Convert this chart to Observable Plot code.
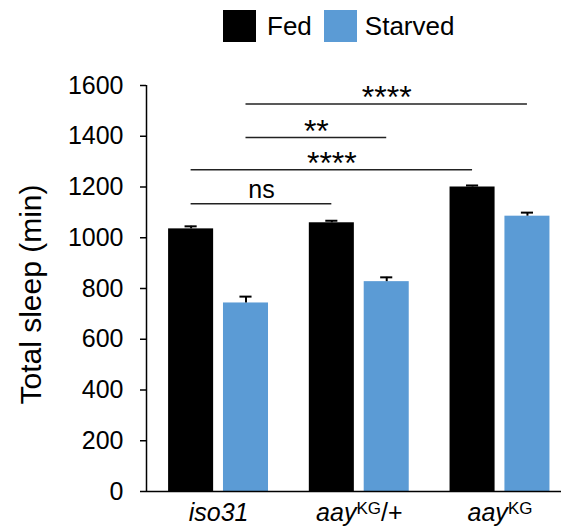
<!DOCTYPE html>
<html>
<head>
<meta charset="utf-8">
<script src="https://cdn.jsdelivr.net/npm/d3@7"></script>
<script src="https://cdn.jsdelivr.net/npm/@observablehq/plot@0.6"></script>
<style>
  html, body { margin: 0; padding: 0; background: #fff; }
  #wrap { position: relative; width: 561px; height: 527px; font-family: "Liberation Sans", Arial, Helvetica, sans-serif; }
  #legend { position: absolute; left: 223px; top: 10px; display: flex; align-items: center; font-size: 26px; color: #000; }
  .sw { width: 33px; height: 32px; display: inline-block; }
</style>
</head>
<body>
<div id="wrap">
  <div id="legend"></div>
</div>
<script>
// ---- data ----
const groups = ["iso31", "aayKG/+", "aayKG"];
const conditions = ["Fed", "Starved"];
const colors = ["#000000", "#5B9BD5"];
const fedMeans = [1035, 1059, 1200];
const fedSem = [10, 8, 6];
const starvedMeans = [743, 827, 1085];
const starvedSem = [25, 17, 14];
const yTicks = [0, 200, 400, 600, 800, 1000, 1200, 1400, 1600];
const yLabel = "Total sleep (min)";
// comparisons: [group, condition] pairs, bracket level in minutes, label
const compFrom = [["iso31", "Fed"], ["iso31", "Fed"], ["iso31", "Starved"], ["iso31", "Starved"]];
const compTo = [["aayKG/+", "Fed"], ["aayKG", "Fed"], ["aayKG/+", "Starved"], ["aayKG", "Starved"]];
const compLevel = [1134, 1268, 1395, 1527];
const compLabel = ["ns", "****", "**", "****"];
// label markup: [text, italic?, superscript?]
const labelParts = {
  "iso31": [["iso31", true, false]],
  "aayKG/+": [["aay", true, false], ["KG", false, true], ["/+", false, false]],
  "aayKG": [["aay", true, false], ["KG", false, true]]
};

// ---- layout (scale units) ----
const xDomain = [-0.512, 2.437];
const offset = {Fed: -0.195, Starved: 0.195};
const half = 0.16;
const capHalf = 0.043;
const font = '"Liberation Sans", Arial, Helvetica, sans-serif';

const bars = [];
groups.forEach((g, i) => {
  bars.push({group: g, gi: i, cond: "Fed", mean: fedMeans[i], sem: fedSem[i]});
  bars.push({group: g, gi: i, cond: "Starved", mean: starvedMeans[i], sem: starvedSem[i]});
});
const pos = ([g, c]) => groups.indexOf(g) + offset[c];
const comps = compLevel.map((lv, i) => ({from: compFrom[i], to: compTo[i], level: lv, label: compLabel[i]}));
const center = d => d.gi + offset[d.cond];

const chart = Plot.plot({
  width: 561,
  height: 527,
  marginLeft: 146,
  marginRight: 0,
  marginTop: 85,
  marginBottom: 36,
  style: {fontFamily: font, background: "transparent", color: "#000", overflow: "visible"},
  x: {domain: xDomain, axis: null},
  y: {domain: [0, 1600], axis: null},
  color: {domain: conditions, range: colors},
  marks: [
    Plot.rectY(bars, {x1: d => center(d) - half, x2: d => center(d) + half, y: "mean", fill: "cond"}),
    Plot.ruleX(bars, {x: center, y1: "mean", y2: d => d.mean + d.sem, stroke: "#000", strokeWidth: 2}),
    Plot.ruleY(bars, {y: d => d.mean + d.sem, x1: d => center(d) - capHalf, x2: d => center(d) + capHalf, stroke: "#000", strokeWidth: 2}),
    Plot.ruleX([xDomain[0]], {stroke: "#000", strokeWidth: 1.5}),
    Plot.ruleY([0], {stroke: "#000", strokeWidth: 1.5}),
    Plot.axisY(yTicks, {tickSize: 6, tickPadding: 17, fontSize: 25, tickFormat: d3.format("d"), stroke: "#000", strokeWidth: 1.5, label: null}),
    Plot.axisX([0, 1, 2], {tickSize: 0, tickPadding: 12, fontSize: 25, tickFormat: i => groups[i], label: null}),
    Plot.text([yLabel], {frameAnchor: "left", textAnchor: "middle", text: d => d, rotate: -90, dx: -115, dy: 6, fontSize: 30}),
    Plot.ruleY(comps, {y: "level", x1: d => pos(d.from), x2: d => pos(d.to), stroke: "#222", strokeWidth: 1.3}),
    Plot.text(comps.filter(d => d.label === "ns"), {x: d => (pos(d.from) + pos(d.to)) / 2, y: "level", text: "label", lineAnchor: "bottom", dy: -6, fontSize: 25}),
    Plot.text(comps.filter(d => d.label !== "ns"), {x: d => (pos(d.from) + pos(d.to)) / 2, y: "level", text: "label", lineAnchor: "bottom", dy: 4, fontSize: 32})
  ]
});

// rich x labels (italic + superscript)
chart.querySelectorAll("text").forEach(t => {
  const s = t.textContent;
  if (labelParts[s] && !t.closest('[aria-label*="y-axis"]')) {
    t.textContent = "";
    let raised = false;
    labelParts[s].forEach(([txt, it, sup]) => {
      const ts = document.createElementNS("http://www.w3.org/2000/svg", "tspan");
      ts.textContent = txt;
      if (it) ts.setAttribute("font-style", "italic");
      if (sup && !raised) { ts.setAttribute("dy", "-0.42em"); raised = true; }
      else if (!sup && raised) { ts.setAttribute("dy", "0.29em"); raised = false; }
      if (sup) ts.setAttribute("font-size", "17");
      t.appendChild(ts);
    });
  }
});

document.getElementById("wrap").appendChild(chart);
chart.style.position = "absolute";
chart.style.left = "0";
chart.style.top = "0";

// legend
const legend = document.getElementById("legend");
conditions.forEach((c, i) => {
  const sw = document.createElement("span");
  sw.className = "sw";
  sw.style.background = colors[i];
  sw.style.marginLeft = i === 0 ? "0" : "12px";
  sw.style.marginRight = i === 0 ? "11px" : "8px";
  const lab = document.createElement("span");
  lab.textContent = c;
  legend.appendChild(sw);
  legend.appendChild(lab);
});
</script>
</body>
</html>
